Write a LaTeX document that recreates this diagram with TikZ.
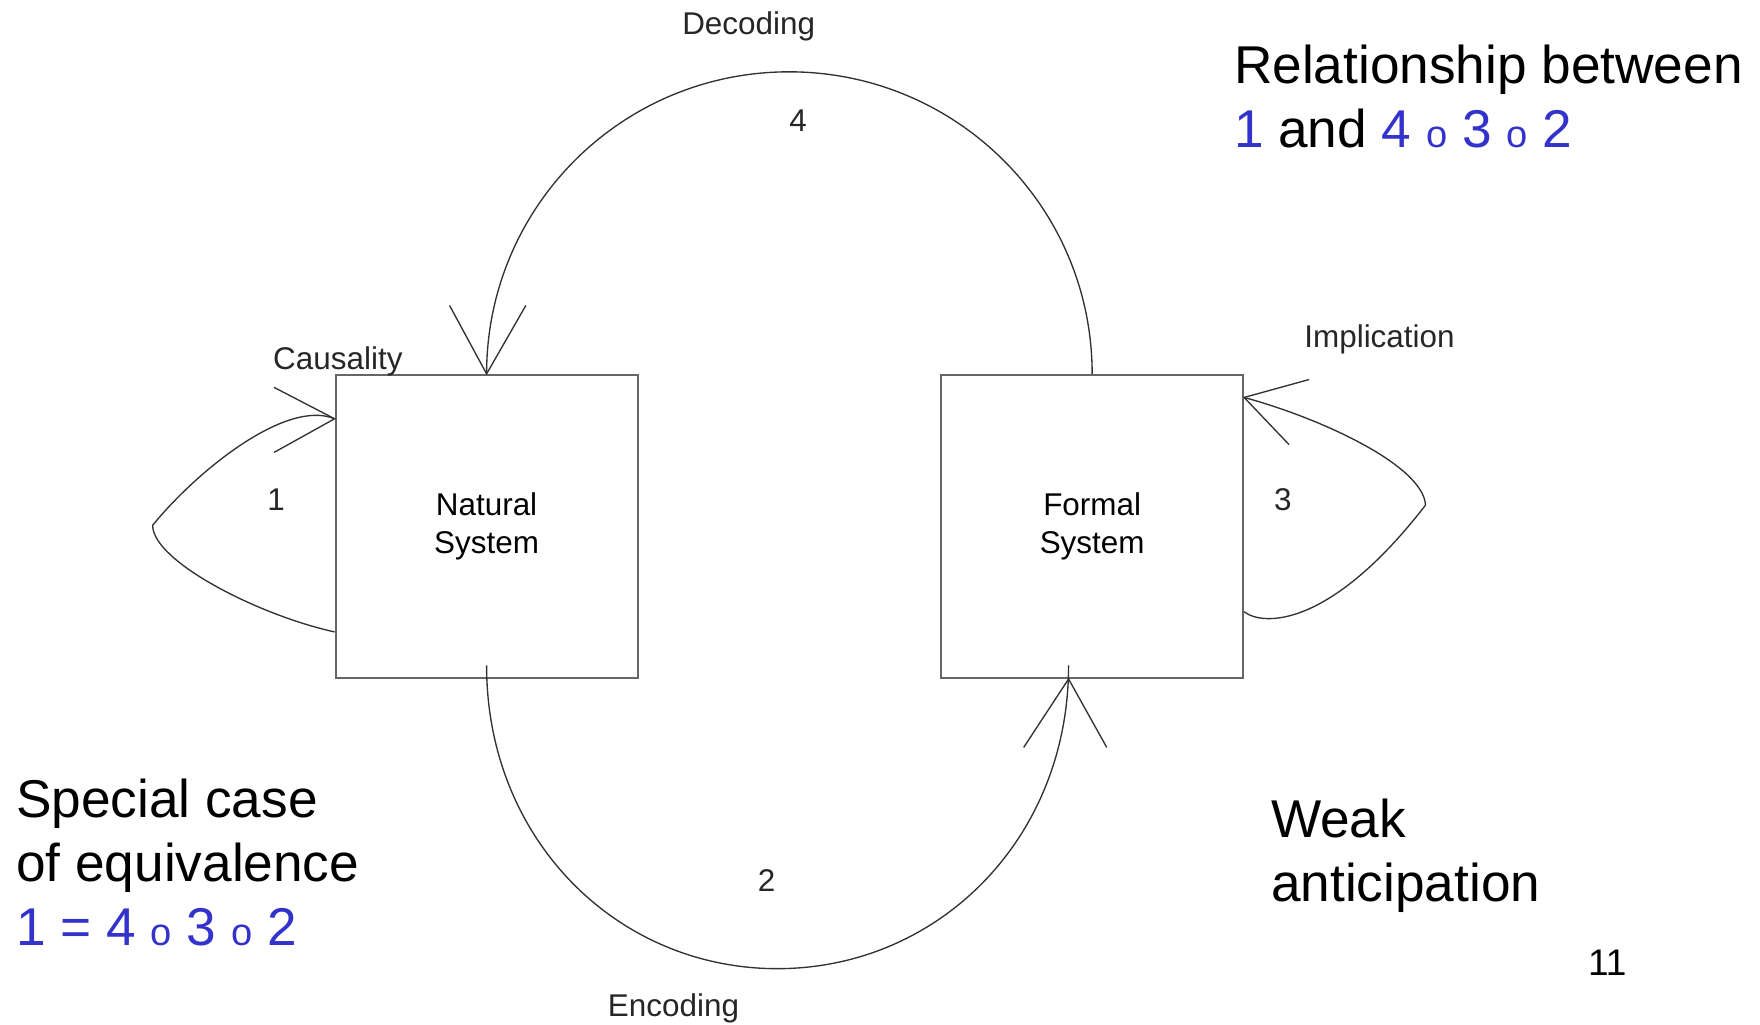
\documentclass[tikz,border=0pt]{standalone}
\usepackage{fontspec}
\setmainfont{Liberation Sans}
\usetikzlibrary{calc}
\definecolor{formula}{RGB}{51,51,204}
\definecolor{linegray}{RGB}{50,50,50}
\newcommand\compo{{\fontsize{17}{20}\selectfont o}}
\begin{document}
\begin{tikzpicture}[x=0.5pt,y=-0.5pt,
  sysbox/.style={draw=black!60, line width=0.9pt, minimum width=134.5pt, minimum height=135pt,
    inner sep=0pt, align=center, font=\fontsize{14}{17}\selectfont},
  conn/.style={draw=linegray, line width=0.6pt},
  lbl/.style={font=\fontsize{14}{17}\selectfont, inner sep=0pt, anchor=base, text=black!85},
  big/.style={font=\fontsize{23.7}{28.5}\selectfont, inner sep=0pt, anchor=base west},
]
\useasboundingbox (0,0) rectangle (1568,913);

% systems
\node[sysbox] (nat) at (433.5,469) {Natural\\System};
\node[sysbox] (form) at (973,469) {Formal\\System};

% named end points
\coordinate (dectop) at (703,64);
\coordinate (enctip) at ($(form.south)+(-21,0)$);
\coordinate (encend) at ($(form.south)+(-21,-12)$);
\coordinate (encstart) at ($(nat.south)+(0,-12)$);
\coordinate (encbot) at (692.5,863);
\coordinate (causstart) at ($(nat.west)+(0,94)$);
\coordinate (caustip) at ($(nat.north west)+(0,40)$);
\coordinate (causleft) at (136,468);
\coordinate (implstart) at ($(form.east)+(0,76)$);
\coordinate (impltip) at ($(form.north east)+(0,21)$);
\coordinate (implright) at (1270,450);

% 4: decoding
\draw[conn] (form.north) .. controls +(0,-149) and +(149,0) .. (dectop)
  .. controls +(-149,0) and +(0,-149) .. (nat.north);
\draw[conn] ($(nat.north)+(-33,-61)$) -- (nat.north) -- ($(nat.north)+(35,-61)$);

% 2: encoding
\draw[conn] (encstart) .. controls +(0,155) and +(-143,0) .. (encbot)
  .. controls +(143,0) and +(0,155) .. (encend);
\draw[conn] ($(enctip)+(-40,61)$) -- (enctip) -- ($(enctip)+(34,61)$);

% 1: causality
\draw[conn] (causstart) .. controls (230,548) and (136,500) .. (causleft)
  .. controls (175,420) and (255,355) .. (caustip);
\draw[conn] ($(caustip)+(-54,-28)$) -- (caustip) -- ($(caustip)+(-54,30)$);

% 3: implication
\draw[conn] (implstart) .. controls (1125,558) and (1185,560) .. (implright)
  .. controls (1268,415) and (1178,373) .. (impltip);
\draw[conn] ($(impltip)+(58,-16)$) -- (impltip) -- ($(impltip)+(40,42)$);

% labels
\node[lbl] (ldec) at (667,31) {Decoding};
\node[lbl] (l4) at (711,117) {4};
\node[lbl] (lcaus) at (301,329) {Causality};
\node[lbl] (l1) at (246,455) {1};
\node[lbl] (limpl) at (1229,310) {Implication};
\node[lbl] (l3) at (1143,455) {3};
\node[lbl] (l2) at (683,794) {2};
\node[lbl] (lenc) at (600,906) {Encoding};

% large texts
\node[big] (rel1) at (1099,74) {Relationship between};
\node[big] (rel2) at (1099,131) {\textcolor{formula}{1} and \textcolor{formula}{4 \compo{} 3 \compo{} 2}};
\node[big] (sp1) at (14,728) {Special case};
\node[big] (sp2) at (14,785) {of equivalence};
\node[big, text=formula] (sp3) at (14,842) {1 = 4 \compo{} 3 \compo{} 2};
\node[big] (wk1) at (1132,746) {Weak};
\node[big] (wk2) at (1132,803) {anticipation};
\node[font=\fontsize{16.5}{20}\selectfont, inner sep=0pt, anchor=base] (pg) at (1432,869) {11};
\end{tikzpicture}
\end{document}
